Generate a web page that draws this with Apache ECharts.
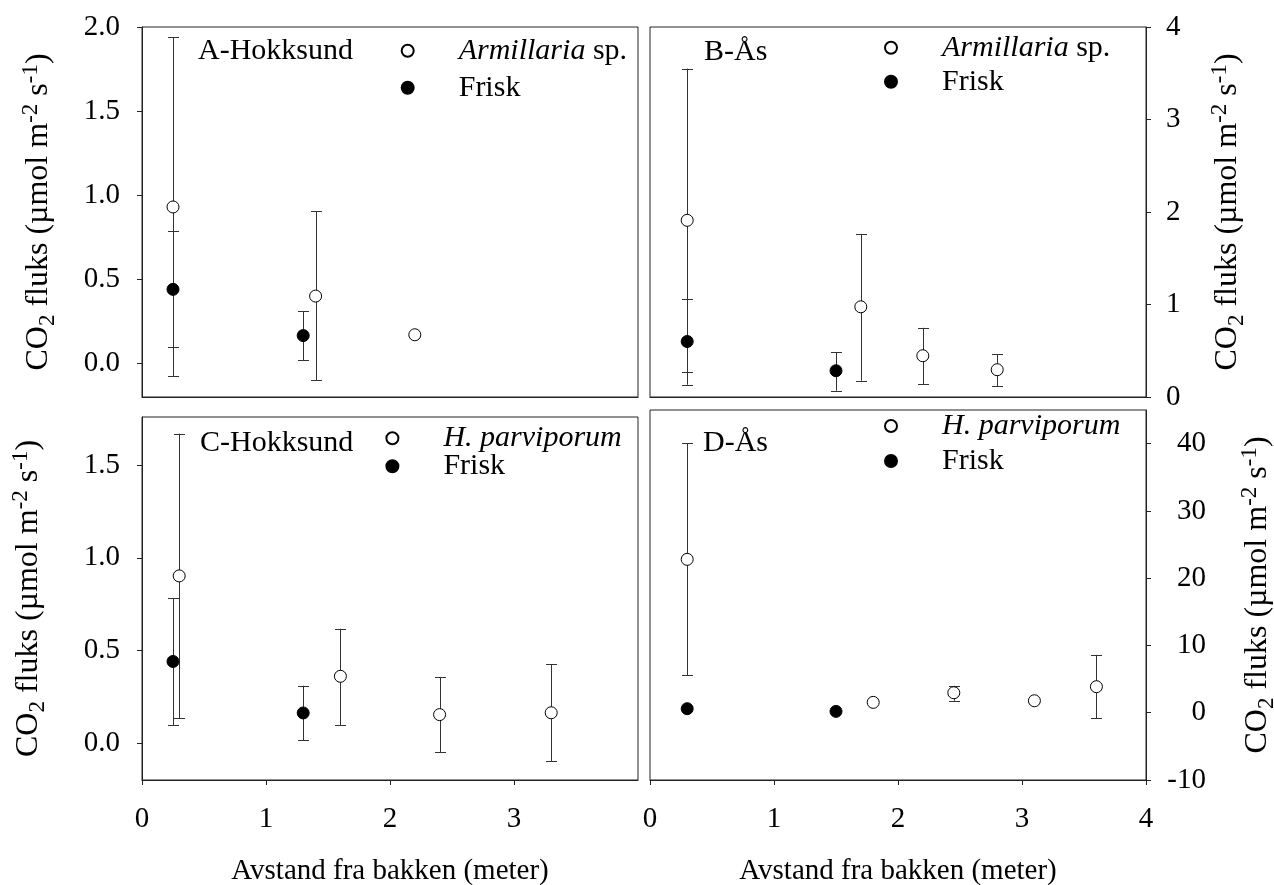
<!DOCTYPE html>
<html>
<head>
<meta charset="utf-8">
<title>CO2 fluks</title>
<script src="https://cdn.jsdelivr.net/npm/echarts@6/dist/echarts.min.js"></script>
<style>
html, body { margin: 0; padding: 0; background: #fff; }
#main { width: 1274px; height: 885px; }
</style>
</head>
<body>
<div id="main"></div>
<script>
// A - Hokksund, Armillaria sp. / Frisk
var aArmX = [0.25, 1.4, 2.2];
var aArmY = [0.93, 0.40, 0.17];
var aArmHi = [1.94, 0.905, null];
var aArmLo = [-0.075, -0.10, null];
var aFriskX = [0.25, 1.3];
var aFriskY = [0.44, 0.165];
var aFriskHi = [0.785, 0.31];
var aFriskLo = [0.097, 0.02];

// B - Ås, Armillaria sp. / Frisk
var bArmX = [0.3, 1.7, 2.2, 2.8];
var bArmY = [1.91, 0.975, 0.446, 0.295];
var bArmHi = [3.55, 1.763, 0.748, 0.46];
var bArmLo = [0.133, 0.176, 0.14, 0.119];
var bFriskX = [0.3, 1.5];
var bFriskY = [0.6, 0.284];
var bFriskHi = [1.064, 0.486];
var bFriskLo = [0.266, 0.068];

// C - Hokksund, H. parviporum / Frisk
var cHpX = [0.3, 1.6, 2.4, 3.3];
var cHpY = [0.902, 0.36, 0.153, 0.163];
var cHpHi = [1.67, 0.617, 0.354, 0.426];
var cHpLo = [0.133, 0.095, -0.049, -0.097];
var cFriskX = [0.25, 1.3];
var cFriskY = [0.44, 0.162];
var cFriskHi = [0.782, 0.309];
var cFriskLo = [0.095, 0.015];

// D - Ås, H. parviporum / Frisk
var dHpX = [0.3, 1.8, 2.45, 3.1, 3.6];
var dHpY = [22.8, 1.54, 2.97, 1.78, 3.87];
var dHpHi = [40.07, null, 4.0, null, 8.6];
var dHpLo = [5.55, null, 1.78, null, -0.84];
var dFriskX = [0.3, 1.5];
var dFriskY = [0.6, 0.2];
var dFriskHi = [null, null];
var dFriskLo = [null, null];

// tick labels
var aTicks = [0, 0.5, 1.0, 1.5, 2.0];
var bTicks = [0, 1, 2, 3, 4];
var cTicks = [0, 0.5, 1.0, 1.5];
var dTicks = [-10, 0, 10, 20, 30, 40];
var cXTicks = [0, 1, 2, 3];
var dXTicks = [0, 1, 2, 3, 4];

var panelNames = ['A-Hokksund', 'B-Ås', 'C-Hokksund', 'D-Ås'];
var xName = 'Avstand fra bakken (meter)';
var yName = '{n|CO}{sub|2}{n| fluks (µmol m}{sup|-2}{n| s}{sup|-1}{n|)}';

var FONT = 'Liberation Serif';
var LINE = '#222';

function pts(xs, ys) {
  var out = [];
  for (var i = 0; i < xs.length; i++) out.push([xs[i], ys[i]]);
  return out;
}
function errs(xs, lo, hi) {
  var out = [];
  for (var i = 0; i < xs.length; i++) {
    if (lo[i] != null && hi[i] != null) out.push([xs[i], lo[i], hi[i]]);
  }
  return out;
}

// vertical error bar with caps
function renderErr(params, api) {
  var x = api.value(0);
  var pLo = api.coord([x, api.value(1)]);
  var pHi = api.coord([x, api.value(2)]);
  var cx = Math.round(pLo[0]) + 0.5;
  var cap = 5.5;
  var st = { stroke: '#333', lineWidth: 1 };
  return {
    type: 'group',
    children: [
      { type: 'line', shape: { x1: cx, y1: pLo[1], x2: cx, y2: pHi[1] }, style: st },
      { type: 'line', shape: { x1: cx - cap, y1: Math.round(pLo[1]) + 0.5, x2: cx + cap, y2: Math.round(pLo[1]) + 0.5 }, style: st },
      { type: 'line', shape: { x1: cx - cap, y1: Math.round(pHi[1]) + 0.5, x2: cx + cap, y2: Math.round(pHi[1]) + 0.5 }, style: st }
    ]
  };
}

var yNameStyle = {
  fontFamily: FONT, fontSize: 32, color: '#000',
  rich: {
    n: { fontFamily: FONT, fontSize: 32, lineHeight: 40, color: '#000' },
    sub: { fontFamily: FONT, fontSize: 23, lineHeight: 26, verticalAlign: 'bottom', color: '#000' },
    sup: { fontFamily: FONT, fontSize: 23, lineHeight: 22, verticalAlign: 'top', color: '#000' }
  }
};

function yAxisOf(grid, min, max, ticks, pos, fmt, labelOpt, nameGap) {
  return {
    gridIndex: grid, type: 'value', min: min, max: max, position: pos,
    axisLine: { show: true, onZero: false, lineStyle: { color: LINE, width: 1 } },
    axisTick: { show: true, inside: false, length: 5, customValues: ticks, lineStyle: { color: LINE } },
    axisLabel: Object.assign({
      customValues: ticks, formatter: fmt,
      fontFamily: FONT, fontSize: 29, color: '#000'
    }, labelOpt),
    splitLine: { show: false },
    name: yName, nameLocation: 'middle', nameRotate: 90, nameGap: nameGap,
    nameTextStyle: yNameStyle
  };
}

function xAxisOf(grid, ticks) {
  var ax = {
    gridIndex: grid, type: 'value', min: 0, max: 4,
    axisLine: { show: true, onZero: false, lineStyle: { color: LINE, width: 1 } },
    axisTick: { show: false },
    axisLabel: { show: false },
    splitLine: { show: false }
  };
  if (ticks) {
    ax.axisTick = { show: true, inside: false, length: 5, customValues: ticks, lineStyle: { color: LINE } };
    ax.axisLabel = { show: true, customValues: ticks, margin: 25, fontFamily: FONT, fontSize: 29, color: '#000' };
    ax.name = xName;
    ax.nameLocation = 'middle';
    ax.nameGap = 77;
    ax.nameTextStyle = { fontFamily: FONT, fontSize: 29, color: '#000' };
  }
  return ax;
}

var f1 = function (v) { return v.toFixed(1); };
var f0 = function (v) { return String(v); };

var gridBox = {
  show: true, borderColor: LINE, borderWidth: 1, backgroundColor: 'transparent',
  containLabel: false, outerBoundsMode: 'none'
};

var panels = [
  { open: 'Armillaria sp.', ox: aArmX, oy: aArmY, ohi: aArmHi, olo: aArmLo, fx: aFriskX, fy: aFriskY, fhi: aFriskHi, flo: aFriskLo },
  { open: 'Armillaria sp.', ox: bArmX, oy: bArmY, ohi: bArmHi, olo: bArmLo, fx: bFriskX, fy: bFriskY, fhi: bFriskHi, flo: bFriskLo },
  { open: 'H. parviporum', ox: cHpX, oy: cHpY, ohi: cHpHi, olo: cHpLo, fx: cFriskX, fy: cFriskY, fhi: cFriskHi, flo: cFriskLo },
  { open: 'H. parviporum', ox: dHpX, oy: dHpY, ohi: dHpHi, olo: dHpLo, fx: dFriskX, fy: dFriskY, fhi: dFriskHi, flo: dFriskLo }
];

var series = [];
for (var i = 0; i < 4; i++) {
  var p = panels[i];
  series.push({
    type: 'custom', xAxisIndex: i, yAxisIndex: i, z: 1, silent: true,
    renderItem: renderErr, encode: { x: 0, y: [1, 2] },
    data: errs(p.ox, p.olo, p.ohi).concat(errs(p.fx, p.flo, p.fhi))
  });
  series.push({
    name: 'Frisk', type: 'scatter', xAxisIndex: i, yAxisIndex: i, z: 3,
    symbol: 'circle', symbolSize: 12,
    itemStyle: { color: '#000', borderColor: '#000', borderWidth: 1, opacity: 1 },
    data: pts(p.fx, p.fy)
  });
  series.push({
    name: p.open, type: 'scatter', xAxisIndex: i, yAxisIndex: i, z: 3,
    symbol: 'circle', symbolSize: 12,
    itemStyle: { color: '#fff', borderColor: '#000', borderWidth: 1, opacity: 1 },
    data: pts(p.ox, p.oy)
  });
}

function legendOf(names, left, top, gap) {
  return {
    data: names, orient: 'vertical', left: left, top: top, padding: 0,
    itemGap: gap, itemWidth: 12, itemHeight: 12, selectedMode: false,
    icon: 'circle',
    formatter: function (name) {
      if (name === 'Armillaria sp.') return '{i|Armillaria} sp.';
      if (name === 'H. parviporum') return '{i|H. parviporum}';
      return name;
    },
    textStyle: {
      fontFamily: FONT, fontSize: 30, lineHeight: 30, color: '#000', padding: [0, 0, 0, 40],
      rich: { i: { fontFamily: FONT, fontSize: 30, lineHeight: 30, fontStyle: 'italic', color: '#000' } }
    }
  };
}

function label(text, x, y) {
  return {
    type: 'text', x: x, y: y, silent: true,
    style: { text: text, fontFamily: FONT, fontSize: 30, fill: '#000', align: 'left', verticalAlign: 'middle' }
  };
}

var option = {
  animation: false,
  backgroundColor: '#fff',
  grid: [
    Object.assign({ left: 142, top: 27, width: 496, height: 370 }, gridBox),
    Object.assign({ left: 650, top: 27, width: 496, height: 370 }, gridBox),
    Object.assign({ left: 142, top: 417, width: 496, height: 363 }, gridBox),
    Object.assign({ left: 650, top: 410, width: 496, height: 370 }, gridBox)
  ],
  xAxis: [xAxisOf(0, null), xAxisOf(1, null), xAxisOf(2, cXTicks), xAxisOf(3, dXTicks)],
  yAxis: [
    yAxisOf(0, -0.2, 2.0, aTicks, 'left', f1, { margin: 22 }, 83),
    yAxisOf(1, 0, 4, bTicks, 'right', f0, { margin: 20 }, 62),
    yAxisOf(2, -0.2, 1.76, cTicks, 'left', f1, { margin: 22 }, 93),
    yAxisOf(3, -10, 45, dTicks, 'right', f0, { margin: 60, align: 'right' }, 92)
  ],
  legend: [
    legendOf(['Armillaria sp.', 'Frisk'], 400.7, 35.7, 7),
    legendOf(['Armillaria sp.', 'Frisk'], 884, 32.7, 4),
    legendOf(['H. parviporum', 'Frisk'], 385.4, 423.3, -2),
    legendOf(['H. parviporum', 'Frisk'], 884, 411, 5)
  ],
  graphic: [
    label(panelNames[0], 198, 51),
    label(panelNames[1], 704, 52.5),
    label(panelNames[2], 200, 443),
    label(panelNames[3], 703, 443)
  ],
  series: series
};

var chart = echarts.init(document.getElementById('main'), null, { renderer: 'canvas' });
chart.setOption(option);
</script>
</body>
</html>
